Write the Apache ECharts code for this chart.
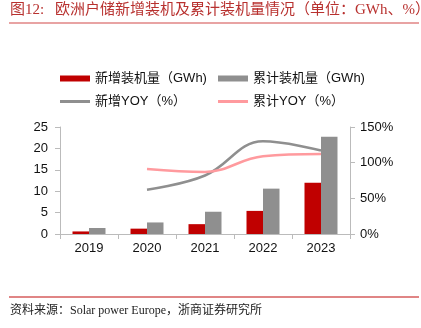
<!DOCTYPE html>
<html><head><meta charset="utf-8">
<script src="https://cdn.jsdelivr.net/npm/echarts@6/dist/echarts.min.js"></script>
<style>html,body{margin:0;padding:0;background:#fff}#c{width:421px;height:328px}</style>
</head><body><div id="c"></div>
<script>
var categories = ['2019','2020','2021','2022','2023'];
var newInstall = [0.6, 1.25, 2.3, 5.4, 12.0];
var cumInstall = [1.4, 2.7, 5.2, 10.6, 22.7];
var newYoy = [null, 62, 82, 130, 117];
var cumYoy = [null, 91, 87, 109, 112];
var leftTicks = [0, 25, 5];
var rightTicks = [0, 150, 50];
var names = ['新增装机量（GWh)','累计装机量（GWh)','新增YOY（%）','累计YOY（%）'];

var chart = echarts.init(document.getElementById('c'), null, {renderer:'canvas'});
var font = '"Liberation Sans", Arial, "Noto Sans CJK SC", sans-serif';
var serif = '"Liberation Serif", "Times New Roman", "Noto Sans CJK SC", serif';
function lg(name, left, top, h){
  return {data:[{name:name, icon:'rect'}], left:left, top:top, padding:0, itemWidth:30, itemHeight:h, itemGap:0,
    textStyle:{fontSize:13, color:'#111', fontFamily:font}, selectedMode:false};
}
chart.setOption({
  animation:false,
  legend:[lg(names[0],60,72,6), lg(names[1],218,72,6), lg(names[2],60,95,3), lg(names[3],218,95,3)],
  grid:{left:60, right:71, top:127, bottom:94},
  xAxis:{type:'category', data:categories, boundaryGap:true,
    axisLine:{lineStyle:{color:'#bbb'}}, axisTick:{show:true, length:5, lineStyle:{color:'#bbb'}},
    axisLabel:{fontSize:13, color:'#111', fontFamily:font, margin:8}},
  yAxis:[
    {type:'value', min:leftTicks[0], max:leftTicks[1], interval:leftTicks[2],
      axisLine:{show:true, lineStyle:{color:'#bbb'}}, axisTick:{show:true, length:5, lineStyle:{color:'#bbb'}},
      splitLine:{show:false}, axisLabel:{fontSize:13, color:'#111', fontFamily:font, margin:12}},
    {type:'value', min:rightTicks[0], max:rightTicks[1], interval:rightTicks[2],
      axisLine:{show:true, lineStyle:{color:'#bbb'}}, axisTick:{show:true, length:5, lineStyle:{color:'#bbb'}},
      splitLine:{show:false}, axisLabel:{fontSize:13, color:'#111', fontFamily:font, margin:10, formatter:'{value}%'}}
  ],
  series:[
    {name:names[0], type:'bar', data:newInstall, barWidth:16.5, barGap:'0%', itemStyle:{color:'#c00000'}},
    {name:names[1], type:'bar', data:cumInstall, barWidth:16.5, barGap:'0%', itemStyle:{color:'#8f8f8f'}},
    {name:names[2], type:'line', yAxisIndex:1, data:newYoy, smooth:0.4, symbol:'none',
      lineStyle:{color:'#8f8f8f', width:2.5}, itemStyle:{color:'#8f8f8f'}},
    {name:names[3], type:'line', yAxisIndex:1, data:cumYoy, smooth:0.4, symbol:'none',
      lineStyle:{color:'#ff9a9e', width:2.5}, itemStyle:{color:'#ff9a9e'}}
  ],
  graphic:[
    {type:'text', left:10, top:3, style:{text:'图12:', fontSize:15, fill:'#b8312f', fontFamily:serif}},
    {type:'text', left:55, top:3, style:{text:'欧洲户储新增装机及累计装机量情况（单位：GWh、%）', fontSize:15, fill:'#b8312f', fontFamily:serif}},
    {type:'line', shape:{x1:9, y1:23, x2:419, y2:23}, style:{stroke:'#e08585', lineWidth:1.5}},
    {type:'line', shape:{x1:9, y1:297, x2:419, y2:297}, style:{stroke:'#e08585', lineWidth:2}},
    {type:'text', left:10, top:305, style:{text:'资料来源：Solar power Europe，浙商证券研究所', fontSize:12, fill:'#222', fontFamily:serif}}
  ]
});
</script></body></html>
